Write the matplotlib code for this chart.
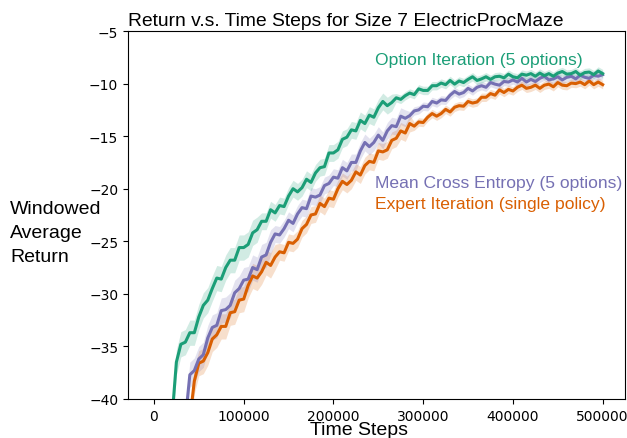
"""Return vs. time steps on the size-7 ElectricProcMaze, three training methods."""
import numpy as np
import matplotlib
matplotlib.use("Agg")
import matplotlib.pyplot as plt

GREEN, PURPLE, ORANGE = "#1b9e77", "#7570b3", "#d95f02"
LABEL_FONT = "Liberation Sans"

# windowed average return, one sample every 5000 steps
GREEN_START = 20000
GREEN_RETURN = [
    -42.0, -36.5, -34.8, -34.6, -33.7, -33.7, -32.2, -31.1, -30.6, -29.5,
    -28.5, -28.6, -27.5, -26.8, -26.8, -25.6, -25.6, -25.3, -24.2, -23.9,
    -23.1, -23.1, -22.0, -22.3, -21.6, -21.7, -20.7, -20.0, -20.3, -19.9,
    -19.1, -19.4, -18.5, -18.0, -17.9, -16.6, -16.6, -16.3, -15.3, -15.1,
    -14.4, -14.5, -13.5, -13.8, -13.0, -13.2, -12.3, -11.7, -12.1, -11.8,
    -11.35, -11.5, -11.15, -10.9, -11.05, -10.5, -10.65, -10.65, -10.2, -10.2,
    -9.95, -10.1, -9.7, -10.05, -9.75, -9.9, -9.6, -9.35, -9.7, -9.55,
    -9.35, -9.6, -9.35, -9.3, -9.45, -9.1, -9.35, -9.45, -9.1, -9.2,
    -9.05, -9.3, -9.0, -9.25, -9.05, -9.3, -9.0, -8.85, -9.1, -9.05,
    -8.85, -9.2, -8.95, -8.9, -9.15, -8.8, -9.05,
]
GREEN_SPREAD = [1.2] * 20 + [0.8] * 30 + [0.4] * 47

PURPLE_START = 35000
PURPLE_RETURN = [
    -42.0, -37.7, -37.3, -36.2, -35.8, -34.2, -33.2, -33.0, -31.6, -31.5,
    -31.1, -29.9, -29.5, -28.7, -28.6, -27.5, -27.7, -26.5, -26.3, -25.1,
    -24.3, -24.4, -23.8, -23.0, -23.3, -22.4, -21.8, -21.9, -20.7, -20.8,
    -20.6, -19.7, -19.5, -18.9, -19.0, -18.0, -18.3, -17.5, -17.5, -16.4,
    -15.6, -16.0, -15.6, -14.9, -15.4, -14.5, -14.0, -14.1, -13.1, -13.3,
    -13.05, -12.6, -12.5, -12.15, -12.2, -11.7, -11.85, -11.55, -11.6, -11.1,
    -10.75, -11.0, -10.85, -10.45, -10.7, -10.35, -10.2, -10.35, -9.9, -10.05,
    -10.15, -9.8, -9.85, -9.65, -9.85, -9.5, -9.85, -9.6, -9.8, -9.5,
    -9.3, -9.65, -9.55, -9.35, -9.65, -9.4, -9.3, -9.55, -9.2, -9.4,
    -9.5, -9.2, -9.3, -9.15,
]
PURPLE_SPREAD = [1.2] * 20 + [0.8] * 30 + [0.4] * 44

ORANGE_START = 40000
ORANGE_RETURN = [
    -42.0, -38.3, -36.6, -36.4, -35.6, -34.3, -33.9, -33.1, -33.1, -31.8,
    -31.7, -30.6, -30.5, -29.2, -28.3, -28.5, -27.9, -27.0, -27.3, -26.5,
    -26.0, -26.1, -25.1, -25.2, -24.8, -23.8, -23.4, -22.5, -22.4, -21.4,
    -21.7, -20.9, -21.0, -20.0, -19.3, -19.6, -19.2, -18.4, -18.7, -17.8,
    -17.4, -17.5, -16.4, -16.5, -16.3, -15.4, -15.2, -14.5, -14.7, -13.8,
    -14.05, -13.65, -13.7, -13.2, -12.85, -13.1, -12.85, -12.45, -12.7, -12.25,
    -12.1, -12.15, -11.7, -11.85, -11.75, -11.3, -11.3, -10.95, -11.1, -10.6,
    -10.85, -10.55, -10.7, -10.35, -10.15, -10.45, -10.35, -10.15, -10.45, -10.15,
    -10.05, -10.3, -9.9, -10.15, -10.2, -9.95, -10.0, -9.85, -10.1, -9.75,
    -10.1, -9.85, -10.1,
]
ORANGE_SPREAD = [1.2] * 20 + [0.8] * 30 + [0.4] * 43

SERIES = [
    ("Expert Iteration (single policy)", ORANGE_START, ORANGE_RETURN, ORANGE_SPREAD, ORANGE),
    ("Mean Cross Entropy (5 options)", PURPLE_START, PURPLE_RETURN, PURPLE_SPREAD, PURPLE),
    ("Option Iteration (5 options)", GREEN_START, GREEN_RETURN, GREEN_SPREAD, GREEN),
]
LABEL_POS = {
    "Option Iteration (5 options)": (246000, -7.7),
    "Mean Cross Entropy (5 options)": (246000, -19.4),
    "Expert Iteration (single policy)": (246000, -21.4),
}
YLABEL_LINES = ["Windowed", "Average", "Return"]


def main():
    fig = plt.figure(figsize=(6.27, 4.39), dpi=100)
    ax = fig.add_axes([0.204, 0.089, 0.793, 0.838])

    for name, start, ret, spread, color in SERIES:
        ret = np.array(ret)
        spread = np.array(spread)
        steps = start + 5000 * np.arange(len(ret))
        ax.fill_between(steps, ret - spread, ret + spread, color=color, alpha=0.2, lw=0)
        ax.plot(steps, ret, color=color, lw=2.2)
        tx, ty = LABEL_POS[name]
        ax.text(tx, ty, name, color=color, fontsize=12.6, family=LABEL_FONT, va="center")

    ax.set_xlim(-29000, 525000)
    ax.set_ylim(-40, -5)
    ax.set_xticks([0, 100000, 200000, 300000, 400000, 500000])
    ax.set_yticks([-40, -35, -30, -25, -20, -15, -10, -5])
    ax.tick_params(labelsize=10)

    ax.set_title("Return v.s. Time Steps for Size 7 ElectricProcMaze", loc="left",
                 fontsize=13.9, family=LABEL_FONT, pad=4)
    fig.text(359 / 627, 1 - 431 / 439, "Time Steps", ha="center", va="center",
             fontsize=14, family=LABEL_FONT)
    # y label as three separate lines, like the original
    for i, line in enumerate(YLABEL_LINES):
        fig.text(10 / 627, 1 - (210 + 24 * i) / 439, line, ha="left", va="center",
                 fontsize=14, family=LABEL_FONT)

    fig.savefig("out.png", dpi=100)


if __name__ == "__main__":
    main()
